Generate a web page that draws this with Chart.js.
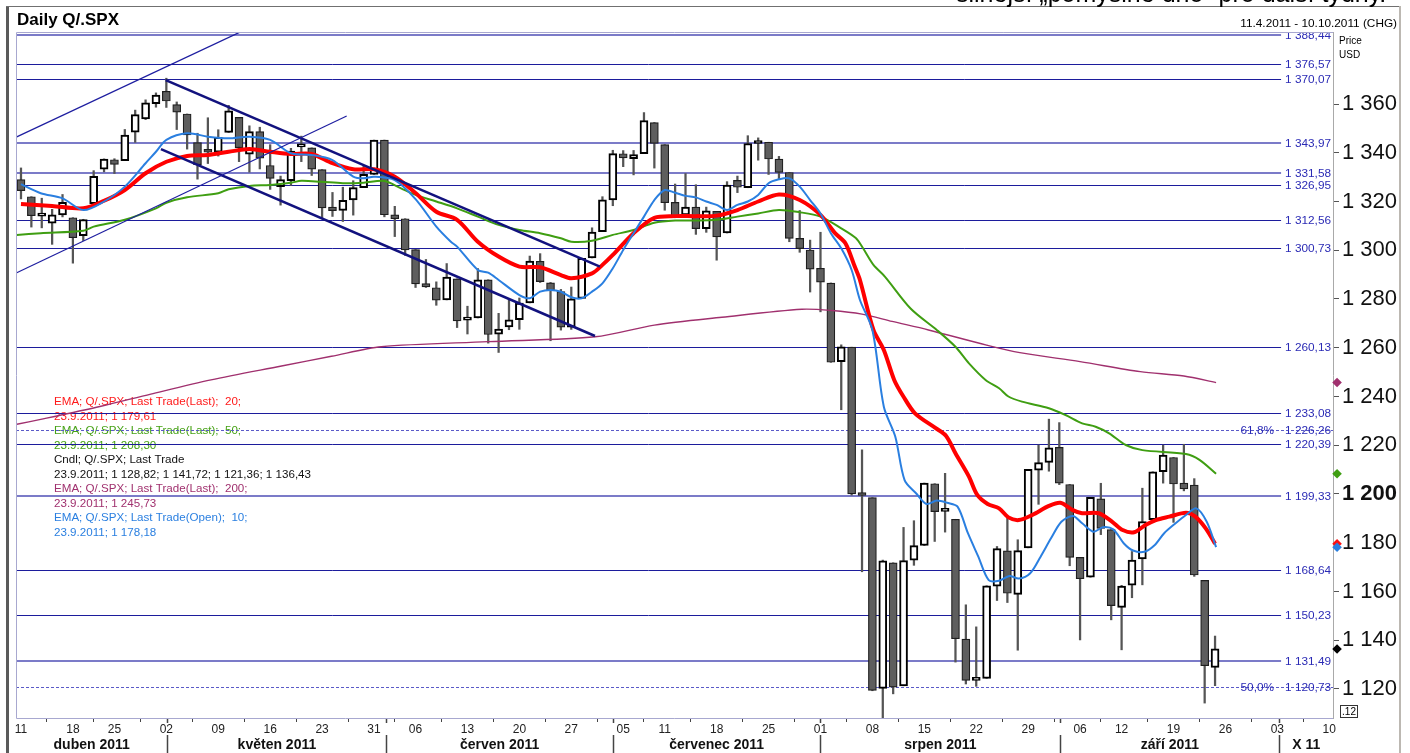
<!DOCTYPE html>
<html lang="cs">
<head>
<meta charset="utf-8">
<title>Daily Q/.SPX</title>
<script src="https://cdn.jsdelivr.net/npm/chart.js@4.4.1/dist/chart.umd.min.js"></script>
<style>
  html, body { margin: 0; padding: 0; background: #fff; }
  #wrap { position: relative; width: 1410px; height: 753px; overflow: hidden; }
</style>
</head>
<body>
<div id="wrap"><canvas id="chart" width="1410" height="753"></canvas></div>
<script>
// x = trading session number, 0 = 11.4.2011
const dayTicks = [0, 5, 9, 14, 19, 24, 29, 34, 38, 43, 48, 53, 58, 62, 67, 72, 77, 82, 87, 92, 97, 102, 106, 111, 116, 121, 126];
const dayLabels = ["11", "18", "25", "02", "09", "16", "23", "31", "06", "13", "20", "27", "05", "11", "18", "25", "01", "08", "15", "22", "29", "06", "12", "19", "26", "03", "10"];
const months = ["duben 2011", "květen 2011", "červen 2011", "červenec 2011", "srpen 2011", "září 2011", "X 11"];
const monthStarts = [14.1, 35.2, 57.0, 77.0, 100.1, 121.2];
const yTicks = [1120, 1140, 1160, 1180, 1200, 1220, 1240, 1260, 1280, 1300, 1320, 1340, 1360];

const opens = [
  1329.01, 1321.96, 1314.03, 1311.13, 1314.54, 1313.35, 1305.99, 1319.12, 1333.23, 1337.14,
  1336.75, 1348.43, 1353.86, 1360.14, 1365.21, 1359.76, 1355.90, 1344.16, 1340.24, 1340.20,
  1348.34, 1354.51, 1339.39, 1348.69, 1334.77, 1326.10, 1328.54, 1342.40, 1342.00, 1333.07,
  1317.70, 1316.36, 1320.64, 1325.69, 1331.10, 1345.20, 1314.55, 1312.94, 1300.26, 1286.31,
  1284.63, 1279.63, 1288.26, 1271.31, 1272.22, 1287.87, 1265.53, 1268.58, 1271.50, 1278.40,
  1295.48, 1286.60, 1283.04, 1268.44, 1280.21, 1296.85, 1307.64, 1320.64, 1339.59, 1337.56,
  1339.62, 1352.39, 1343.31, 1319.61, 1314.45, 1317.74, 1308.87, 1315.94, 1307.07, 1328.66,
  1325.65, 1343.80, 1344.32, 1337.39, 1331.91, 1304.84, 1300.12, 1292.59, 1286.56, 1254.25,
  1260.23, 1200.28, 1198.48, 1120.23, 1171.77, 1121.30, 1172.87, 1178.86, 1204.22, 1192.89,
  1189.62, 1140.47, 1123.55, 1124.36, 1162.16, 1176.69, 1158.85, 1177.91, 1209.76, 1213.00,
  1219.12, 1203.90, 1173.97, 1165.85, 1197.98, 1185.37, 1153.50, 1162.59, 1173.32, 1189.44,
  1209.21, 1214.99, 1204.50, 1203.63, 1164.55, 1128.82];
const highs = [
  1333.77, 1321.96, 1321.35, 1316.79, 1322.88, 1313.35, 1312.70, 1332.66, 1337.49, 1337.55,
  1349.55, 1357.49, 1361.71, 1364.56, 1370.58, 1360.84, 1355.90, 1348.00, 1354.36, 1349.44,
  1359.44, 1354.51, 1351.05, 1350.47, 1343.33, 1330.42, 1341.82, 1346.82, 1342.00, 1333.07,
  1323.72, 1325.86, 1328.51, 1334.62, 1345.20, 1345.20, 1318.03, 1312.94, 1300.26, 1296.22,
  1287.04, 1294.54, 1288.26, 1277.04, 1292.50, 1287.87, 1274.11, 1279.82, 1280.42, 1297.62,
  1298.61, 1286.79, 1283.93, 1284.91, 1296.80, 1309.21, 1321.97, 1341.01, 1340.89, 1340.94,
  1356.48, 1352.39, 1343.31, 1327.17, 1331.48, 1326.88, 1317.70, 1315.94, 1328.14, 1330.43,
  1347.00, 1346.10, 1344.32, 1338.51, 1331.91, 1316.32, 1304.16, 1307.38, 1286.58, 1261.20,
  1260.23, 1218.11, 1198.48, 1172.88, 1171.77, 1186.29, 1189.04, 1204.49, 1204.22, 1208.47,
  1189.62, 1154.54, 1145.49, 1162.35, 1178.47, 1190.68, 1181.23, 1210.08, 1220.10, 1230.71,
  1229.29, 1203.90, 1173.97, 1198.62, 1204.40, 1185.37, 1162.52, 1176.41, 1202.38, 1209.11,
  1220.06, 1214.99, 1220.39, 1206.30, 1164.55, 1141.72];
const lows = [
  1321.06, 1309.51, 1309.19, 1302.42, 1313.68, 1294.70, 1303.97, 1319.12, 1332.16, 1331.47,
  1336.75, 1344.25, 1353.60, 1358.69, 1358.59, 1349.52, 1341.50, 1329.17, 1335.58, 1338.64,
  1348.34, 1336.36, 1332.03, 1333.36, 1324.97, 1318.51, 1326.59, 1336.36, 1330.67, 1312.88,
  1313.87, 1311.80, 1314.41, 1325.69, 1331.10, 1313.71, 1305.61, 1297.90, 1284.72, 1284.74,
  1277.42, 1279.63, 1268.28, 1265.64, 1272.22, 1261.90, 1258.07, 1267.40, 1267.56, 1278.40,
  1286.79, 1262.87, 1267.24, 1267.53, 1280.21, 1296.85, 1307.64, 1318.27, 1334.30, 1330.92,
  1339.62, 1333.71, 1316.42, 1313.33, 1314.45, 1306.51, 1307.35, 1295.92, 1307.07, 1323.65,
  1325.65, 1336.95, 1331.09, 1329.10, 1303.49, 1299.16, 1282.86, 1274.73, 1254.03, 1234.56,
  1199.54, 1168.09, 1119.28, 1101.54, 1118.01, 1121.30, 1170.74, 1178.86, 1180.53, 1184.36,
  1131.03, 1122.05, 1121.09, 1124.36, 1156.30, 1155.47, 1135.91, 1177.91, 1195.77, 1209.35,
  1203.85, 1170.56, 1140.13, 1165.85, 1183.34, 1148.37, 1136.07, 1157.44, 1162.73, 1189.44,
  1204.46, 1188.36, 1201.29, 1166.21, 1114.22, 1121.36];
const closes = [
  1324.46, 1314.16, 1314.41, 1314.52, 1319.68, 1305.14, 1312.62, 1330.36, 1337.38, 1335.25,
  1347.24, 1355.66, 1360.48, 1363.61, 1361.22, 1356.62, 1347.32, 1335.10, 1340.20, 1346.29,
  1357.16, 1342.08, 1348.65, 1337.77, 1329.47, 1328.98, 1340.68, 1343.60, 1333.27, 1317.37,
  1316.28, 1320.47, 1325.69, 1331.10, 1345.20, 1314.55, 1312.94, 1300.16, 1286.17, 1284.94,
  1279.56, 1289.00, 1270.98, 1271.83, 1287.87, 1265.42, 1267.64, 1271.50, 1278.36, 1295.52,
  1287.14, 1283.50, 1268.45, 1280.10, 1296.67, 1307.41, 1320.64, 1339.67, 1337.88, 1339.22,
  1353.22, 1343.80, 1319.49, 1313.64, 1317.72, 1308.87, 1316.14, 1305.44, 1326.73, 1325.84,
  1343.80, 1345.02, 1337.43, 1331.94, 1304.89, 1300.67, 1292.28, 1286.94, 1254.05, 1260.34,
  1200.07, 1199.38, 1119.46, 1172.53, 1120.76, 1172.64, 1178.81, 1204.49, 1192.76, 1193.89,
  1140.65, 1123.53, 1123.82, 1162.35, 1177.60, 1159.27, 1176.80, 1210.08, 1212.92, 1218.89,
  1204.42, 1173.97, 1165.24, 1198.62, 1185.90, 1154.23, 1162.27, 1172.87, 1188.68, 1209.11,
  1216.01, 1204.09, 1202.09, 1166.76, 1129.56, 1136.43];

// indicator lines: [session, value]
const ema10 = [[0,1327.1],[1.9,1323.4],[4,1321.3],[6,1316.5],[8,1320],[10,1326.1],[12,1335.7],[13,1340.4],[14,1345.3],[16,1348],[18,1346.6],[20,1345.9],[22,1346.6],[24,1345.3],[26,1339.8],[28,1339.1],[30,1337],[32,1330.2],[33,1329.5],[34,1330.2],[36,1328.8],[38,1321],[40,1309.7],[41.4,1303.5],[42,1301.5],[44,1291.9],[45,1290.8],[46,1287.8],[48,1281.6],[49,1280.3],[50,1283],[51,1283.7],[52,1283],[53,1280.7],[54,1280.3],[55,1283],[56,1286.4],[57,1292.6],[58,1300.1],[59,1307],[60,1313.8],[61,1320.6],[62,1324.7],[63,1323.6],[64,1322.3],[65,1321.7],[66,1320],[67,1318.6],[68,1316.5],[69,1318.6],[70,1320],[71,1322.7],[72,1327.5],[73,1329.1],[74,1329.5],[75,1326.1],[76,1320.6],[77,1315.1],[78,1307],[79,1300.8],[80,1291.9],[80.8,1279.6],[82,1267.3],[83.1,1235.8],[84.2,1223.6],[85.1,1205.7],[86.2,1200.3],[87.2,1195.9],[88.2,1197.3],[89.2,1196.4],[90.2,1194.8],[91.2,1183.9],[92.2,1174.3],[93.2,1164.7],[94.2,1164.4],[95.2,1166.4],[96.1,1165.3],[97.2,1167.5],[98.2,1174.3],[99.2,1181.8],[100.2,1188.6],[101.3,1191],[102.2,1188],[103.3,1184.5],[104.2,1186.4],[105.2,1185.5],[106.2,1179.8],[107.1,1176.8],[108.2,1176.3],[109.2,1179.1],[110.1,1183.9],[111.2,1188],[112.2,1191.4],[113.2,1194.1],[114.2,1188.6],[115.1,1178.2]];
const ema20 = [[0,1319],[3,1318.2],[6,1317.2],[8,1320.3],[10,1324.7],[12,1331.6],[14,1336.3],[16,1338.7],[18,1339.1],[20,1340.4],[22,1341.5],[24,1340.4],[26,1339.5],[28,1339.5],[30,1335.7],[32,1333.2],[34,1333.2],[36,1330.2],[38,1323.5],[40,1315.8],[42,1312.5],[44,1303.5],[46,1297.4],[48,1293.3],[50,1293],[52,1289.8],[53,1288.5],[55,1290.5],[56,1294],[57,1298.1],[59,1307],[61,1313.3],[63,1314],[65,1314],[67,1314.2],[69,1316.5],[71,1320],[73,1322.9],[75,1320.6],[77,1314.5],[78.4,1307],[79.4,1302.9],[80.3,1293.3],[80.8,1287.8],[82.1,1267.3],[83.1,1259.1],[84.1,1246.8],[85,1239.9],[86.1,1233.1],[88.1,1227],[89.1,1223.8],[90,1216.7],[91.3,1207.1],[92.1,1199.6],[93.1,1195.9],[94.2,1194.1],[95.1,1190.4],[96.1,1189.3],[97.4,1191.4],[99,1195.1],[100.1,1196.4],[101.3,1193.4],[102.2,1192.1],[103.8,1192.1],[105.1,1188.6],[106.1,1185.2],[107.2,1184.3],[108.3,1187.3],[109.3,1189.3],[110.6,1190.7],[112.2,1192.3],[113.1,1190.7],[114.1,1185.9],[115,1179.6]];
const ema50 = [[-0.4,1306.3],[1.9,1307],[6,1308],[7,1309.7],[10,1312.5],[13,1317.2],[14,1319.5],[16,1321.7],[19,1323.4],[20,1325],[22,1326.4],[24,1326.8],[26,1327.7],[27,1328.5],[28.9,1328.1],[31,1327.5],[33,1327.7],[35,1328.4],[36.6,1325.4],[38,1322.7],[40,1320],[42,1317.2],[44,1313.8],[46,1310.4],[48,1308.3],[50,1307],[52,1304.9],[53,1303.5],[55,1303.9],[57,1306.3],[59,1308.3],[61,1311.3],[63,1312.2],[65,1312.2],[67,1312.5],[69,1313.8],[71,1315.1],[73,1316.5],[75,1315.6],[77,1313.8],[79,1309],[80.4,1305],[81.1,1300.8],[82.1,1294],[83.2,1289.2],[85.7,1276],[88.2,1267.3],[90,1260.4],[91.3,1253.6],[92.9,1246.8],[94.2,1243.4],[95.1,1240],[96.4,1237.9],[99,1235.2],[100.6,1232.4],[102.2,1229],[103.5,1227.6],[104.8,1224.9],[106.4,1220.1],[108,1218],[112.2,1216.4],[113.5,1214],[115.1,1208.3]];
const ema200 = [[-0.4,1228.6],[1.9,1230.6],[7.7,1236],[12.5,1241],[18.3,1246.8],[25.1,1252.5],[29.9,1256.5],[34.7,1260.4],[45,1262.5],[55.3,1264.5],[61,1269.3],[67.5,1272.5],[75.2,1275.8],[78.1,1275.3],[81,1273.8],[83.9,1270.8],[87.4,1267.3],[93,1261.1],[96.2,1258],[102,1254.3],[107.8,1250.2],[112,1248.4],[115.1,1245.7]];

// drawn trend channels: [[session, value], [session, value]]
const channelThin = [[[-0.41, 1346.5], [21.09, 1389.5]], [[-0.41, 1290.8], [31.37, 1355.1]]];
const channelThick = [[[13.94, 1369.8], [55.76, 1293.3]], [[13.48, 1341.5], [55.28, 1264.8]]];

// horizontal levels
const levelsDark = [1376.57, 1370.07, 1326.95, 1312.56, 1300.73, 1260.13, 1233.08, 1220.39, 1168.64, 1150.23];
const levelsLight = [1388.44, 1343.97, 1331.58, 1199.33, 1131.49];
const fibLevels = [1226.26, 1120.73];
const fibLabels = ["61,8%", "50,0%"];

// last values (markers on the price axis): EMA200, EMA50, EMA20, EMA10, close
const lastValues = [1245.73, 1208.30, 1179.61, 1178.18, 1136.43];
const lastColors = ["#a0306e", "#3f9e12", "#ff1010", "#2a7fe0", "#000000"];

const legendLines = [
  "EMA; Q/.SPX; Last Trade(Last);  20;", "23.9.2011; 1 179,61",
  "EMA; Q/.SPX; Last Trade(Last);  50;", "23.9.2011; 1 208,30",
  "Cndl; Q/.SPX; Last Trade", "23.9.2011; 1 128,82; 1 141,72; 1 121,36; 1 136,43",
  "EMA; Q/.SPX; Last Trade(Last);  200;", "23.9.2011; 1 245,73",
  "EMA; Q/.SPX; Last Trade(Open);  10;", "23.9.2011; 1 178,18"
];
const legendColors = ["#ff1a1a", "#ff1a1a", "#46a215", "#46a215", "#111", "#111", "#a0306e", "#a0306e", "#2a7fe0", "#2a7fe0"];

const FONT = '"Liberation Sans", Arial, Helvetica, sans-serif';
Chart.defaults.font.family = FONT;

function czNum(v, dec) {
  const parts = v.toFixed(dec).split(".");
  const ip = parts[0].replace(/\B(?=(\d{3})+(?!\d))/g, " ");
  return parts[1] ? ip + "," + parts[1] : ip;
}

const pts = arr => arr.map(p => ({ x: p[0], y: p[1] }));
const sessions = closes.map((c, i) => i);
const isUp = sessions.map(i => closes[i] >= opens[i]);

const overlay = {
  id: "overlay",
  beforeDatasetsDraw(chart) {
    const { ctx, chartArea: a, scales: { y } } = chart;
    ctx.save();
    ctx.beginPath();
    ctx.rect(a.left, a.top, a.right - a.left, a.bottom - a.top);
    ctx.clip();

    ctx.font = "11.6px " + FONT;
    ctx.textBaseline = "middle";
    ctx.textAlign = "left";
    legendLines.forEach((t, i) => {
      ctx.fillStyle = legendColors[i];
      ctx.fillText(t, 54, 402 + i * 14.5);
    });

    const rx = a.right - 2;
    ctx.font = "11.8px " + FONT;
    const level = (v, color, width) => {
      const py = Math.round(y.getPixelForValue(v)) + (width === 1 ? 0.5 : 0);
      const label = czNum(v, 2);
      const w = ctx.measureText(label).width;
      ctx.strokeStyle = color;
      ctx.lineWidth = width;
      ctx.beginPath();
      ctx.moveTo(a.left, py);
      ctx.lineTo(rx - w - 4, py);
      ctx.stroke();
      ctx.fillStyle = "#2b2bb5";
      ctx.textAlign = "right";
      ctx.fillText(label, rx, py + 0.5);
    };
    levelsDark.forEach(v => level(v, "#1c1c9c", 1));
    levelsLight.forEach(v => level(v, "#7b7bc8", 2));

    fibLevels.forEach((v, i) => {
      const py = Math.round(y.getPixelForValue(v)) + 0.5;
      ctx.setLineDash([3, 2]);
      ctx.strokeStyle = "#5a5ac8";
      ctx.lineWidth = 1;
      ctx.beginPath();
      ctx.moveTo(a.left, py);
      ctx.lineTo(a.right, py);
      ctx.stroke();
      ctx.setLineDash([]);
      ctx.fillStyle = "#2b2bb5";
      ctx.textAlign = "right";
      ctx.fillText(czNum(v, 2), rx, py + 0.5);
      ctx.fillText(fibLabels[i], rx - 57, py + 0.5);
    });
    ctx.restore();
  },
  afterDraw(chart) {
    const { ctx, chartArea: a, scales: { x } } = chart;
    ctx.save();

    // frame
    ctx.fillStyle = "#5a5a5a";
    ctx.fillRect(6, 6, 3, 747);
    ctx.fillStyle = "#707070";
    ctx.fillRect(6, 6, 1394, 1);
    ctx.fillStyle = "#bcb8b2";
    ctx.fillRect(1399, 6, 2, 747);

    // plot border (right side is the price axis)
    ctx.strokeStyle = "#a8a8d0";
    ctx.lineWidth = 1;
    ctx.beginPath();
    ctx.moveTo(a.right, a.top + 0.5);
    ctx.lineTo(a.left + 0.5, a.top + 0.5);
    ctx.lineTo(a.left + 0.5, a.bottom + 0.5);
    ctx.lineTo(a.right, a.bottom + 0.5);
    ctx.stroke();

    // header
    ctx.fillStyle = "#000";
    ctx.textBaseline = "alphabetic";
    ctx.textAlign = "left";
    ctx.font = "bold 17px " + FONT;
    ctx.fillText("Daily Q/.SPX", 17, 25);
    ctx.font = "25px " + FONT;
    ctx.fillText("silnější „pomyslné dno“ pro další týdny.", 956, 2);
    ctx.font = "11.8px " + FONT;
    ctx.textAlign = "right";
    ctx.fillText("11.4.2011 - 10.10.2011 (CHG)", 1397, 27);
    ctx.textAlign = "left";
    ctx.font = "10px " + FONT;
    ctx.fillText("Price", 1339, 44);
    ctx.fillText("USD", 1339, 58);

    // small box under the price axis
    ctx.strokeStyle = "#333";
    ctx.strokeRect(1340.5, 705.5, 17, 12);
    ctx.font = "10px " + FONT;
    ctx.textAlign = "center";
    ctx.textBaseline = "middle";
    ctx.fillText(".12", 1349, 712);

    // months row
    const bounds = [x.min].concat(monthStarts, [x.max]);
    ctx.font = "bold 14px " + FONT;
    ctx.fillStyle = "#111";
    months.forEach((m, i) => {
      const cx = (x.getPixelForValue(bounds[i]) + x.getPixelForValue(bounds[i + 1])) / 2;
      ctx.fillText(m, cx, 745);
    });
    ctx.strokeStyle = "#444";
    ctx.lineWidth = 1.5;
    monthStarts.forEach(v => {
      const px = Math.round(x.getPixelForValue(v)) + 0.5;
      ctx.beginPath();
      ctx.moveTo(px, 735);
      ctx.lineTo(px, 753);
      ctx.moveTo(px, 719);
      ctx.lineTo(px, 723);
      ctx.stroke();
    });
    ctx.restore();
  }
};

const datasets = [
  {
    type: "bar", label: "wicks", order: 7,
    data: sessions.map(i => ({ x: i, y: [lows[i], highs[i]] })),
    barThickness: 1.6, grouped: false, backgroundColor: "#555", borderWidth: 0
  },
  {
    type: "bar", label: "bodies", order: 6,
    data: sessions.map(i => ({ x: i, y: [opens[i], closes[i]] })),
    barThickness: 8, grouped: false, minBarLength: 3, borderSkipped: false,
    backgroundColor: isUp.map(u => (u ? "#ffffff" : "#5e5e5e")),
    borderColor: isUp.map(u => (u ? "#000" : "#1e1e1e")),
    borderWidth: isUp.map(u => (u ? 2 : 1.2))
  },
  { type: "line", label: "EMA200", order: 5, data: pts(ema200), borderColor: "#a0306e", borderWidth: 1.4, pointRadius: 0, tension: 0.3 },
  { type: "line", label: "EMA50", order: 4, data: pts(ema50), borderColor: "#3f9e12", borderWidth: 2, pointRadius: 0, tension: 0.3 },
  { type: "line", label: "EMA20", order: 3, data: pts(ema20), borderColor: "#ff0000", borderWidth: 4, pointRadius: 0, tension: 0.3 },
  { type: "line", label: "EMA10", order: 2, data: pts(ema10), borderColor: "#2a7fe0", borderWidth: 2, pointRadius: 0, tension: 0.3 }
];
channelThin.forEach(seg => datasets.push({
  type: "line", order: 1, data: pts(seg), borderColor: "#1e1ea0", borderWidth: 1.2, pointRadius: 0, tension: 0
}));
channelThick.forEach(seg => datasets.push({
  type: "line", order: 1, data: pts(seg), borderColor: "#12127e", borderWidth: 2.6, pointRadius: 0, tension: 0
}));
// last-value markers on the price axis (bubble type so none is culled outside the x range)
datasets.push({
  type: "bubble", order: 0, clip: false,
  data: lastValues.map(v => ({ x: 126.75, y: v })),
  pointStyle: "rectRot", radius: 4.8, hoverRadius: 0,
  backgroundColor: lastColors, borderColor: lastColors, borderWidth: 0
});

new Chart(document.getElementById("chart"), {
  type: "line",
  data: { datasets: datasets },
  options: {
    responsive: false,
    animation: false,
    devicePixelRatio: 1,
    layout: { padding: { left: 16, top: 32, right: 10, bottom: 0 } },
    plugins: { legend: { display: false }, tooltip: { enabled: false } },
    scales: {
      x: {
        type: "linear", min: -0.48, max: 126.36, offset: false,
        afterBuildTicks: s => { s.ticks = dayTicks.map(v => ({ value: v })); },
        afterFit: s => { s.height = 35; s.paddingLeft = 0; s.paddingRight = 0; },
        ticks: {
          autoSkip: false, maxRotation: 0, minRotation: 0, padding: 0,
          color: "#222", font: { size: 12 },
          callback: (v, i) => dayLabels[i]
        },
        grid: { drawOnChartArea: false, tickLength: 4, color: "#444", tickWidth: 1 },
        border: { display: false }
      },
      y: {
        position: "right", min: 1108.1, max: 1389.54,
        afterBuildTicks: s => { s.ticks = yTicks.map(v => ({ value: v })); },
        afterFit: s => { s.width = 67; s.paddingTop = 0; s.paddingBottom = 0; },
        ticks: {
          padding: 3, color: "#111",
          font: c => ({ size: 22, weight: c.tick && c.tick.value === 1200 ? "bold" : "normal" }),
          callback: v => czNum(v, 0)
        },
        grid: { drawOnChartArea: false, tickLength: 6, color: "#555", tickWidth: 1 },
        border: { color: "#a9a9a9", width: 1 }
      }
    }
  },
  plugins: [overlay]
});
</script>
</body>
</html>
